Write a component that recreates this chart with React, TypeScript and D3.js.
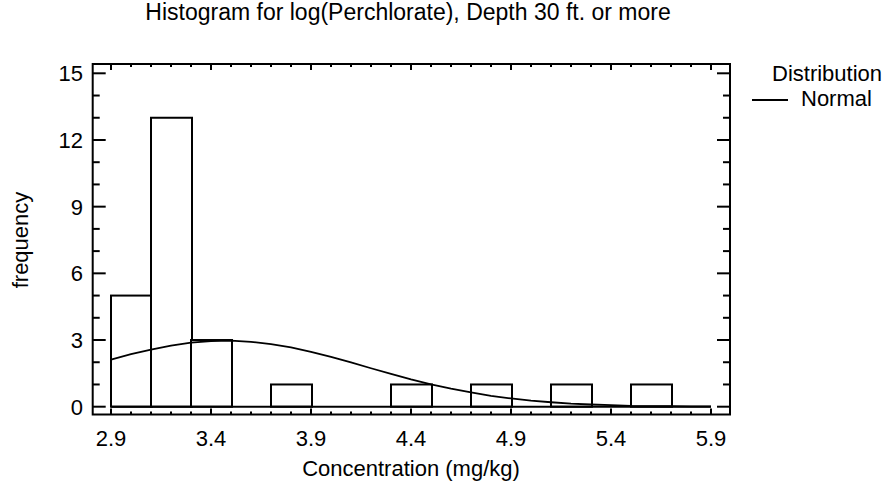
import { useEffect, useRef } from "react";
import * as d3 from "d3";

// histogram bins (lower edge) and counts
const binStarts = [2.9, 3.1, 3.3, 3.5, 3.7, 3.9, 4.1, 4.3, 4.5, 4.7, 4.9, 5.1, 5.3, 5.5, 5.7];
const binCounts = [5, 13, 3, 0, 1, 0, 0, 1, 0, 1, 0, 1, 0, 1, 0];
const binWidth = 0.2;

// fitted normal curve
const normalX = [
  2.9, 3.0, 3.1, 3.2, 3.3, 3.4, 3.5, 3.6, 3.7, 3.8, 3.9, 4.0, 4.1, 4.2, 4.3, 4.4,
  4.5, 4.6, 4.7, 4.8, 4.9, 5.0, 5.1, 5.2, 5.3, 5.4, 5.5, 5.6, 5.7, 5.8, 5.9,
];
const normalY = [
  2.12, 2.36, 2.57, 2.75, 2.88, 2.95, 2.97, 2.92, 2.82, 2.67, 2.47, 2.24, 1.99, 1.73, 1.48, 1.23,
  1.01, 0.81, 0.64, 0.49, 0.37, 0.27, 0.2, 0.14, 0.1, 0.07, 0.04, 0.03, 0.02, 0.01, 0.01,
];

const xTicks = [2.9, 3.4, 3.9, 4.4, 4.9, 5.4, 5.9];
const xTickLabels = ["2.9", "3.4", "3.9", "4.4", "4.9", "5.4", "5.9"];
const yTicks = [0, 3, 6, 9, 12, 15];
const yTickLabels = ["0", "3", "6", "9", "12", "15"];

const title = "Histogram for log(Perchlorate), Depth 30 ft. or more";
const xTitle = "Concentration (mg/kg)";
const yTitle = "frequency";
const legendTitle = "Distribution";
const legendItems = ["Normal"];

const WIDTH = 891;
const HEIGHT = 487;
const FONT = "'Liberation Sans', Arial, Helvetica, sans-serif";

// plot frame
const frame = { left: 92.7, right: 730, top: 64, bottom: 414.5 };

const App = () => {
  const svgRef = useRef<SVGSVGElement | null>(null);

  useEffect(() => {
    const svg = d3.select(svgRef.current);
    svg.selectAll("*").remove();

    const xScale = d3.scaleLinear().domain([2.9, 5.9]).range([111, 711]);
    const yScale = d3.scaleLinear().domain([0, 15]).range([406.7, 73.3]);

    const g = svg.append("g").attr("font-family", FONT).attr("fill", "#000");

    // bars
    binStarts.forEach((start, i) => {
      if (binCounts[i] === 0) return;
      g.append("rect")
        .attr("x", xScale(start))
        .attr("y", yScale(binCounts[i]))
        .attr("width", xScale(start + binWidth) - xScale(start) + 1)
        .attr("height", yScale(0) - yScale(binCounts[i]))
        .attr("fill", "#fff")
        .attr("stroke", "#000")
        .attr("stroke-width", 2);
    });

    // baseline across all bins
    g.append("line")
      .attr("x1", xScale(binStarts[0]))
      .attr("x2", xScale(binStarts[binStarts.length - 1] + binWidth))
      .attr("y1", yScale(0))
      .attr("y2", yScale(0))
      .attr("stroke", "#000")
      .attr("stroke-width", 2);

    // normal curve
    const line = d3
      .line<number>()
      .x((d) => xScale(d))
      .y((_, i) => yScale(normalY[i]));
    g.append("path")
      .attr("d", line(normalX) || "")
      .attr("fill", "none")
      .attr("stroke", "#000")
      .attr("stroke-width", 1.8);

    // frame
    g.append("rect")
      .attr("x", frame.left)
      .attr("y", frame.top)
      .attr("width", frame.right - frame.left)
      .attr("height", frame.bottom - frame.top)
      .attr("fill", "none")
      .attr("stroke", "#000")
      .attr("stroke-width", 2);

    // x ticks (bottom + top), minor every 0.1
    const xMinor = d3.range(0, 31).map((k) => 2.9 + k * 0.1);
    xMinor.forEach((v, k) => {
      const len = k % 5 === 0 ? 6 : 3;
      const px = xScale(v);
      g.append("line")
        .attr("x1", px).attr("x2", px)
        .attr("y1", frame.bottom).attr("y2", frame.bottom - len)
        .attr("stroke", "#000").attr("stroke-width", 2);
      g.append("line")
        .attr("x1", px).attr("x2", px)
        .attr("y1", frame.top).attr("y2", frame.top + len)
        .attr("stroke", "#000").attr("stroke-width", 2);
    });

    // y ticks (left + right), minor every 1
    d3.range(0, 16).forEach((v) => {
      const len = v % 3 === 0 ? 13 : 7;
      const py = yScale(v);
      g.append("line")
        .attr("x1", frame.left).attr("x2", frame.left + len)
        .attr("y1", py).attr("y2", py)
        .attr("stroke", "#000").attr("stroke-width", 2);
      g.append("line")
        .attr("x1", frame.right).attr("x2", frame.right - len)
        .attr("y1", py).attr("y2", py)
        .attr("stroke", "#000").attr("stroke-width", 2);
    });

    // tick labels
    xTicks.forEach((v, i) => {
      g.append("text")
        .attr("x", xScale(v))
        .attr("y", 446)
        .attr("text-anchor", "middle")
        .attr("font-size", 22)
        .text(xTickLabels[i]);
    });
    yTicks.forEach((v, i) => {
      g.append("text")
        .attr("x", 83)
        .attr("y", yScale(v) + 8)
        .attr("text-anchor", "end")
        .attr("font-size", 22)
        .text(yTickLabels[i]);
    });

    // titles
    g.append("text")
      .attr("x", 408)
      .attr("y", 20)
      .attr("text-anchor", "middle")
      .attr("font-size", 23)
      .text(title);
    g.append("text")
      .attr("x", 411)
      .attr("y", 476)
      .attr("text-anchor", "middle")
      .attr("font-size", 22)
      .text(xTitle);
    g.append("text")
      .attr("transform", `translate(28, 240) rotate(-90)`)
      .attr("text-anchor", "middle")
      .attr("font-size", 22)
      .text(yTitle);

    // legend
    g.append("text")
      .attr("x", 772)
      .attr("y", 81)
      .attr("font-size", 22)
      .text(legendTitle);
    legendItems.forEach((name, i) => {
      const ly = 106 + i * 25;
      g.append("line")
        .attr("x1", 752).attr("x2", 788)
        .attr("y1", ly - 6).attr("y2", ly - 6)
        .attr("stroke", "#000").attr("stroke-width", 2);
      g.append("text")
        .attr("x", 801)
        .attr("y", ly)
        .attr("font-size", 22)
        .text(name);
    });
  }, []);

  return (
    <svg
      ref={svgRef}
      width={WIDTH}
      height={HEIGHT}
      style={{ position: "absolute", left: 0, top: 0, background: "#fff" }}
    />
  );
};

export default App;
